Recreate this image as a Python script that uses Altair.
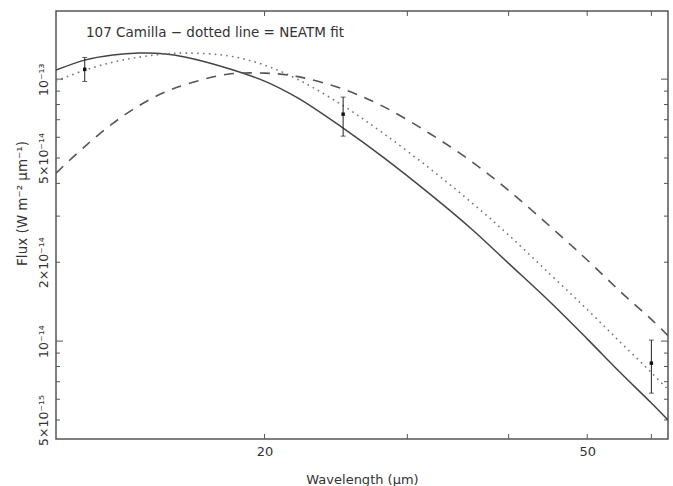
import altair as alt
import pandas as pd

# ---- data ----
wavelength = [11.06, 12, 13, 14, 15, 16, 18, 20, 22, 25, 28, 32, 36, 40, 45, 50, 55, 60, 62.9]

flux_solid = [1.082e-13, 1.182e-13, 1.235e-13, 1.257e-13, 1.251e-13, 1.213e-13, 1.101e-13,
              0.983e-13, 8.46e-14, 6.50e-14, 5.04e-14, 3.64e-14, 2.68e-14, 1.98e-14,
              1.41e-14, 1.02e-14, 7.55e-15, 5.80e-15, 4.99e-15]

flux_dotted = [0.983e-13, 1.082e-13, 1.161e-13, 1.213e-13, 1.246e-13, 1.257e-13, 1.229e-13,
               1.131e-13, 0.996e-13, 7.92e-14, 6.22e-14, 4.55e-14, 3.38e-14, 2.54e-14,
               1.80e-14, 1.32e-14, 9.87e-15, 7.58e-15, 6.53e-15]

flux_dashed = [4.38e-14, 5.53e-14, 6.78e-14, 7.92e-14, 8.87e-14, 9.55e-14, 1.044e-13,
               1.054e-13, 1.022e-13, 9.16e-14, 7.87e-14, 6.19e-14, 4.85e-14, 3.76e-14,
               2.74e-14, 2.04e-14, 1.54e-14, 1.21e-14, 1.05e-14]

obs_wavelength = [12, 25, 60]
obs_flux = [1.09e-13, 7.35e-14, 8.24e-15]
obs_low = [0.98e-13, 6.06e-14, 6.33e-15]
obs_high = [1.21e-13, 8.54e-14, 1.009e-14]

x_ticks = [20, 30, 40, 50, 60]
x_labels = [20, 50]
y_major = [1e-14, 1e-13]
y_minor = [5e-15, 6e-15, 7e-15, 8e-15, 9e-15, 2e-14, 3e-14, 4e-14, 5e-14,
           6e-14, 7e-14, 8e-14, 9e-14]
y_labels = [5e-15, 1e-14, 2e-14, 5e-14, 1e-13]

title_text = "107 Camilla \u2212 dotted line = NEATM fit"

# ---- layout ----
W, H = 612, 428
FONT = "DejaVu Sans"
TXT = "#333333"

xscale = alt.Scale(type="log", domain=[11.06, 62.9], nice=False)
yscale = alt.Scale(type="log", domain=[4.23e-15, 1.82e-13], nice=False)

curves = pd.DataFrame({"wl": wavelength, "solid": flux_solid,
                       "dotted": flux_dotted, "dashed": flux_dashed})
obs = pd.DataFrame({"wl": obs_wavelength, "f": obs_flux, "lo": obs_low, "hi": obs_high})

y_label_expr = ("datum.value > 9e-14 ? '10\u207b\u00b9\u00b3' : "
                "datum.value > 4e-14 ? '5\u00d710\u207b\u00b9\u2074' : "
                "datum.value > 1.5e-14 ? '2\u00d710\u207b\u00b9\u2074' : "
                "datum.value > 9e-15 ? '10\u207b\u00b9\u2074' : '5\u00d710\u207b\u00b9\u2075'")

x_axis = alt.Axis(values=x_labels, format="d", grid=False, ticks=False, domain=False,
                  labelFont=FONT, labelFontSize=13, labelColor=TXT, labelPadding=6,
                  labelFlush=False, title="Wavelength (\u00b5m)", titleFont=FONT,
                  titleFontSize=13, titleFontWeight="normal", titleColor=TXT,
                  titleY=40, titleBaseline="middle")
y_axis = alt.Axis(values=y_labels, labelExpr=y_label_expr, grid=False, ticks=False,
                  domain=False, labelAngle=270, labelAlign="center", labelBaseline="bottom",
                  labelFont=FONT, labelFontSize=12.5, labelColor=TXT, labelPadding=6,
                  labelFlush=False, labelOverlap=False,
                  title="Flux (W m\u207b\u00b2 \u00b5m\u207b\u00b9)", titleFont=FONT,
                  titleFontSize=13.5, titleFontWeight="normal", titleColor=TXT,
                  titleAngle=270, titleX=-34, titleY=192, titleAlign="center",
                  titleBaseline="middle")

base = alt.Chart(curves)
INTERP = "catmull-rom"

solid = base.mark_line(color="#444444", strokeWidth=1.5, interpolate=INTERP, clip=True).encode(
    x=alt.X("wl:Q", scale=xscale, axis=x_axis),
    y=alt.Y("solid:Q", scale=yscale, axis=y_axis),
)
dotted = base.mark_line(color="#777777", strokeWidth=1.6, strokeDash=[1.6, 4.2],
                        interpolate=INTERP, clip=True).encode(
    x=alt.X("wl:Q", scale=xscale), y=alt.Y("dotted:Q", scale=yscale))
dashed = base.mark_line(color="#555555", strokeWidth=1.6, strokeDash=[10, 8],
                        interpolate=INTERP, clip=True).encode(
    x=alt.X("wl:Q", scale=xscale), y=alt.Y("dashed:Q", scale=yscale))

obase = alt.Chart(obs)
bars = obase.mark_rule(color="#222222", strokeWidth=1).encode(
    x=alt.X("wl:Q", scale=xscale), y=alt.Y("lo:Q", scale=yscale), y2="hi:Q")
cap_hi = obase.mark_tick(color="#222222", orient="horizontal", size=5, thickness=1).encode(
    x=alt.X("wl:Q", scale=xscale), y=alt.Y("hi:Q", scale=yscale))
cap_lo = obase.mark_tick(color="#222222", orient="horizontal", size=5, thickness=1).encode(
    x=alt.X("wl:Q", scale=xscale), y=alt.Y("lo:Q", scale=yscale))
pts = obase.mark_square(color="#111111", size=12, opacity=1).encode(
    x=alt.X("wl:Q", scale=xscale), y=alt.Y("f:Q", scale=yscale))

xt = alt.Chart(pd.DataFrame({"t": x_ticks}))
xt_bot = xt.mark_rule(color="#555555", strokeWidth=1).encode(
    x=alt.X("t:Q", scale=xscale), y=alt.value(H), y2=alt.value(H - 5))
xt_top = xt.mark_rule(color="#555555", strokeWidth=1).encode(
    x=alt.X("t:Q", scale=xscale), y=alt.value(0), y2=alt.value(5))

ymj = alt.Chart(pd.DataFrame({"t": y_major}))
ymn = alt.Chart(pd.DataFrame({"t": y_minor}))
yl_mj = ymj.mark_rule(color="#555555", strokeWidth=1).encode(
    y=alt.Y("t:Q", scale=yscale), x=alt.value(0), x2=alt.value(7))
yr_mj = ymj.mark_rule(color="#555555", strokeWidth=1).encode(
    y=alt.Y("t:Q", scale=yscale), x=alt.value(W), x2=alt.value(W - 7))
yl_mn = ymn.mark_rule(color="#555555", strokeWidth=1).encode(
    y=alt.Y("t:Q", scale=yscale), x=alt.value(0), x2=alt.value(4))
yr_mn = ymn.mark_rule(color="#555555", strokeWidth=1).encode(
    y=alt.Y("t:Q", scale=yscale), x=alt.value(W), x2=alt.value(W - 4))

label = alt.Chart(pd.DataFrame({"t": [title_text]})).mark_text(
    font=FONT, fontSize=13.5, color=TXT, align="left", baseline="middle").encode(
    text="t:N", x=alt.value(30), y=alt.value(22))

chart = alt.layer(
    solid, dotted, dashed, bars, cap_hi, cap_lo, pts,
    xt_bot, xt_top, yl_mj, yr_mj, yl_mn, yr_mn, label
).properties(
    width=W, height=H,
    padding={"left": 56, "top": 11, "right": 5, "bottom": 47},
    autosize=alt.AutoSizeParams(type="none"),
    background="white",
).configure_view(stroke="#555555", strokeWidth=1.5)

chart.save("out.html", embed_options={"renderer": "svg", "actions": False})
